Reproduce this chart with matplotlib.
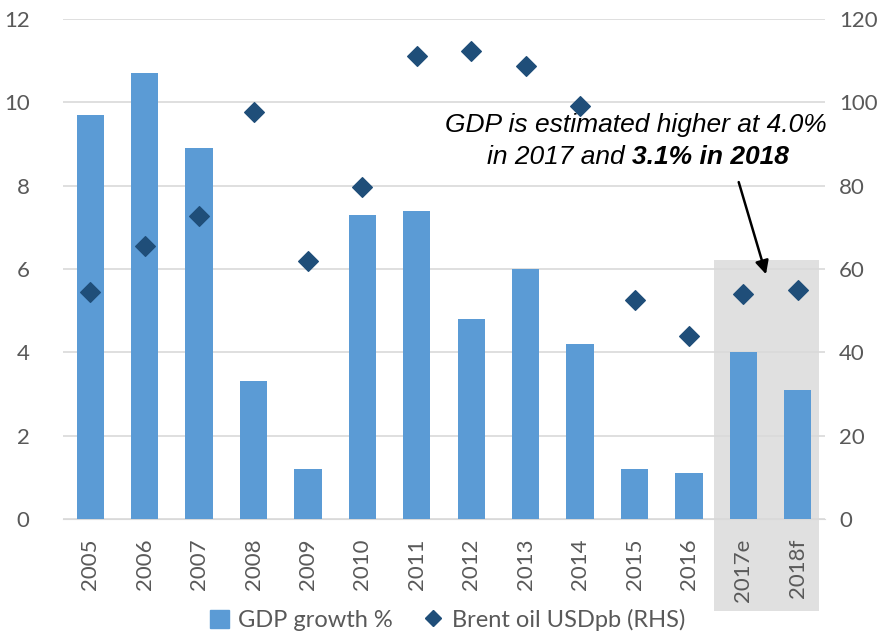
import matplotlib.pyplot as plt
from matplotlib.patches import Rectangle, Patch
from matplotlib.lines import Line2D

years = ["2005", "2006", "2007", "2008", "2009", "2010", "2011", "2012",
         "2013", "2014", "2015", "2016", "2017e", "2018f"]
gdp_growth = [9.7, 10.7, 8.9, 3.3, 1.2, 7.3, 7.4, 4.8, 6.0, 4.2, 1.2, 1.1, 4.0, 3.1]
brent_oil = [54.5, 65.5, 72.7, 97.7, 61.9, 79.7, 111.1, 112.3, 108.7, 99.1,
             52.6, 43.9, 54.0, 55.0]

bar_color = "#5B9BD5"
oil_color = "#1F4E79"
tick_color = "#595959"
font = "Lato"

fig = plt.figure(figsize=(8.95, 6.34), dpi=100)
ax = fig.add_axes([0.0704, 0.1814, 0.8514, 0.7886])
ax2 = ax.twinx()

x = list(range(len(years)))
ax.bar(x, gdp_growth, width=0.5, color=bar_color, zorder=3)
ax2.scatter(x, brent_oil, marker="D", s=100, color=oil_color, zorder=4)

# shaded forecast block, running down behind the tick labels
shade = Rectangle((11.46, -2.21), 1.93, 6.22 + 2.21, facecolor="#E0E0E0",
                  edgecolor="none", clip_on=False, zorder=0)
ax.add_patch(shade)

ax.set_xlim(-0.5, len(years) - 0.5)
ax.set_ylim(0, 12)
ax2.set_ylim(0, 120)
ax.set_yticks(range(0, 13, 2))
ax2.set_yticks(range(0, 121, 20))
ax.set_xticks(x)
ax.set_xticklabels(years, rotation=90)

ax.grid(axis="y", color="#D9D9D9", linewidth=1.2, zorder=1)
ax.set_axisbelow(True)
for a in (ax, ax2):
    for s in a.spines.values():
        s.set_visible(False)
    a.tick_params(length=0, labelcolor=tick_color, labelsize=16)
    for lbl in a.get_xticklabels() + a.get_yticklabels():
        lbl.set_fontfamily(font)
ax.spines["bottom"].set_visible(True)
ax.spines["bottom"].set_color("#D9D9D9")
ax.tick_params(axis="x", pad=14)
ax.tick_params(axis="y", pad=24)
ax2.tick_params(axis="y", pad=10)

txt = dict(fontsize=19, style="italic", family="Liberation Sans", va="center")
ax.text(10.03, 9.45, "GDP is estimated higher at 4.0%", ha="center", **txt)
ax.text(9.95, 8.68, "in 2017 and ", ha="right", **txt)
ax.text(9.95, 8.68, "3.1% in 2018", ha="left", weight="bold", **txt)
ax.annotate("", xy=(12.43, 5.81), xytext=(11.9, 8.15),
            arrowprops=dict(arrowstyle="-|>", color="black", lw=1.8,
                            mutation_scale=20))

handles = [Patch(color=bar_color, label="GDP growth %"),
           Line2D([], [], marker="D", linestyle="none", color=oil_color,
                  markersize=8, label="Brent oil USDpb (RHS)")]
leg = fig.legend(handles=handles, loc="center", bbox_to_anchor=(0.5, 0.022),
                 ncol=2, frameon=False, handlelength=0.8, handleheight=0.8,
                 columnspacing=1.3, handletextpad=0.4,
                 prop={"family": font, "size": 17})
for t in leg.get_texts():
    t.set_color(tick_color)

fig.savefig("out.png", dpi=100)
